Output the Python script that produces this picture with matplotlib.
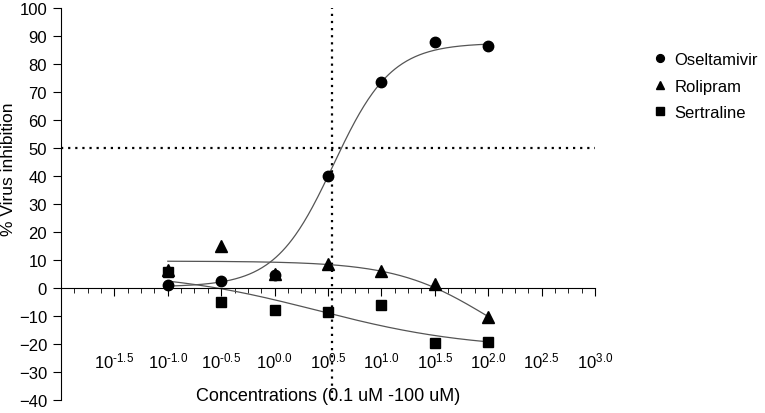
import matplotlib.pyplot as plt
from matplotlib import rcParams
from matplotlib.ticker import FixedLocator, NullFormatter
import numpy as np

rcParams['font.family'] = ['Liberation Sans', 'DejaVu Sans']
rcParams['mathtext.fontset'] = 'custom'
rcParams['mathtext.rm'] = 'Liberation Sans'
rcParams['mathtext.it'] = 'Liberation Sans'
rcParams['font.size'] = 12

# concentrations (uM) as log10 exponents
log_conc = [-1.0, -0.5, 0.0, 0.5, 1.0, 1.5, 2.0]

oseltamivir = [1.0, 2.5, 4.5, 40.0, 73.5, 88.0, 86.5]
rolipram = [6.5, 15.0, 5.0, 8.5, 6.0, 1.5, -10.5]
sertraline = [5.7, -5.0, -7.8, -8.5, -6.0, -19.5, -19.2]

# fitted dose-response curves: start, end, logEC50, hill
osel_fit = (0.4, 87.5, 0.55, 1.6)
roli_fit = (9.6, -30.0, 2.0, 1.0)
sert_fit = (6.0, -22.0, 0.4, 0.6)

x_tick_exp = [-1.5, -1.0, -0.5, 0.0, 0.5, 1.0, 1.5, 2.0, 2.5, 3.0]
ec50_line = 10 ** 0.54


def logistic(x, params):
    start, end, logec50, hill = params
    return start + (end - start) / (1 + 10 ** (hill * (logec50 - x)))


def exp_label(e):
    s = '%.1f' % e
    if s.startswith('-'):
        return r'10$^{\text{-}%s}$' % s[1:]
    return r'10$^{%s}$' % s


conc = [10 ** e for e in log_conc]
xs = np.linspace(log_conc[0], log_conc[-1], 300)

fig = plt.figure(figsize=(7.65, 4.14), dpi=100)
ax = fig.add_axes([61 / 765, 13 / 414, 534 / 765, 392 / 414])

curve_kw = dict(color='#555555', lw=0.9, zorder=2)
ax.plot(10 ** xs, logistic(xs, osel_fit), **curve_kw)
ax.plot(10 ** xs, logistic(xs, roli_fit), **curve_kw)
ax.plot(10 ** xs, logistic(xs, sert_fit), **curve_kw)

ax.plot(conc, oseltamivir, 'o', color='k', ms=7.5, ls='none', label='Oseltamivir', zorder=4)
ax.plot(conc, rolipram, '^', color='k', ms=8, ls='none', label='Rolipram', zorder=3)
ax.plot(conc, sertraline, 's', color='k', ms=7.5, ls='none', label='Sertraline', zorder=3)

ax.axhline(50, color='k', lw=1.6, ls=(0, (1, 2.2)), zorder=1)
ax.axvline(ec50_line, color='k', lw=1.6, ls=(0, (1, 2.2)), zorder=1)

ax.set_xscale('log')
ax.set_xlim(10 ** -2, 10 ** 3)
ax.set_ylim(-40, 100)
ax.set_yticks(np.arange(-40, 101, 10))

ax.spines['top'].set_visible(False)
ax.spines['right'].set_visible(False)
ax.spines['bottom'].set_position(('data', 0))

ax.xaxis.set_major_locator(FixedLocator([10 ** e for e in x_tick_exp]))
ax.xaxis.set_minor_locator(FixedLocator([10 ** e for e in np.arange(-2, 3.01, 0.125)]))
ax.xaxis.set_minor_formatter(NullFormatter())
ax.set_xticklabels([exp_label(e) for e in x_tick_exp])
ax.tick_params(axis='x', which='major', direction='out', length=6, pad=39, labelsize=12)
ax.tick_params(axis='x', which='minor', direction='out', length=3.5)
ax.tick_params(axis='y', direction='out', length=6, pad=4, labelsize=12)

ax.set_xlabel('Concentrations (0.1 uM -100 uM)', fontsize=13)
ax.xaxis.set_label_coords(0.5, -0.01)
ax.xaxis.label.set_va('bottom')
ax.set_ylabel('% Virus inhibition', fontsize=12.5)
ax.yaxis.set_label_coords(-0.084, 0.59)

leg = ax.legend(loc='upper left', bbox_to_anchor=(1.099, 0.905), frameon=False,
                handlelength=0.6, handletextpad=0.6, labelspacing=0.7,
                borderaxespad=0, fontsize=12, markerscale=0.75)

plt.savefig('out.png', dpi=100)
